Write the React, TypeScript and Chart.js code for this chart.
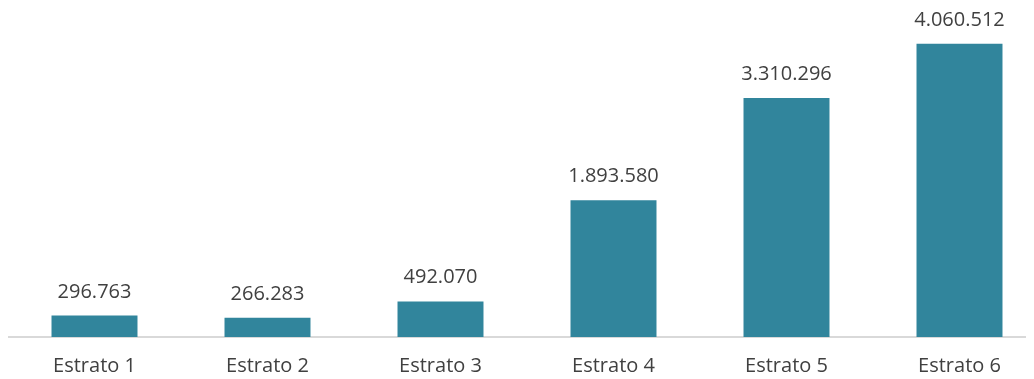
import React, { useEffect, useRef } from "react";
import { Chart, registerables } from "chart.js";

Chart.register(...registerables);

const categories = ["Estrato 1", "Estrato 2", "Estrato 3", "Estrato 4", "Estrato 5", "Estrato 6"];
const values = [296763, 266283, 492070, 1893580, 3310296, 4060512];

const BAR_COLOR = "#31859C";
const TEXT_COLOR = "#404040";
const FONT_FAMILY = "'Open Sans', sans-serif";

function fmt(v: number): string {
  return String(Math.round(v)).replace(/\B(?=(\d{3})+(?!\d))/g, ".");
}

const dataLabels = {
  id: "dataLabels",
  afterDatasetsDraw(chart: any) {
    const ctx = chart.ctx;
    const meta = chart.getDatasetMeta(0);
    ctx.save();
    ctx.font = `20px ${FONT_FAMILY}`;
    ctx.fillStyle = TEXT_COLOR;
    ctx.textAlign = "center";
    ctx.textBaseline = "alphabetic";
    meta.data.forEach((bar: any, i: number) => {
      const v = chart.data.datasets[0].data[i] as number;
      ctx.fillText(fmt(v), bar.x, bar.y - 18);
    });
    ctx.restore();
  },
};

export default function App() {
  const ref = useRef<HTMLCanvasElement | null>(null);

  useEffect(() => {
    document.documentElement.style.overflow = "hidden";
    document.body.style.overflow = "hidden";
    if (!ref.current) return;
    const chart = new Chart(ref.current, {
      type: "bar",
      data: {
        labels: categories,
        datasets: [
          {
            data: values,
            backgroundColor: BAR_COLOR,
            borderWidth: 0,
            categoryPercentage: 1,
            barPercentage: 0.497,
          },
        ],
      },
      options: {
        animation: false,
        responsive: false,
        maintainAspectRatio: false,
        devicePixelRatio: 1,
        layout: { padding: { top: 4, left: 0, right: 0, bottom: 0 } },
        plugins: {
          legend: { display: false },
          tooltip: { enabled: false },
        },
        scales: {
          x: {
            grid: { display: false, drawTicks: false },
            border: { display: true, color: "#d9d9d9", width: 2 },
            ticks: {
              color: TEXT_COLOR,
              font: { family: FONT_FAMILY, size: 20 },
              padding: 17,
              maxRotation: 0,
              autoSkip: false,
            },
            afterFit: (axis: any) => {
              axis.height = 42;
            },
          },
          y: {
            display: false,
            min: 0,
            max: 4500000,
          },
        },
      },
      plugins: [dataLabels],
    });
    return () => chart.destroy();
  }, []);

  return (
    <div style={{ width: 1026, height: 371, overflow: "hidden" }}>
      <canvas ref={ref} width={1038} height={371} style={{ display: "block" }} />
    </div>
  );
}
